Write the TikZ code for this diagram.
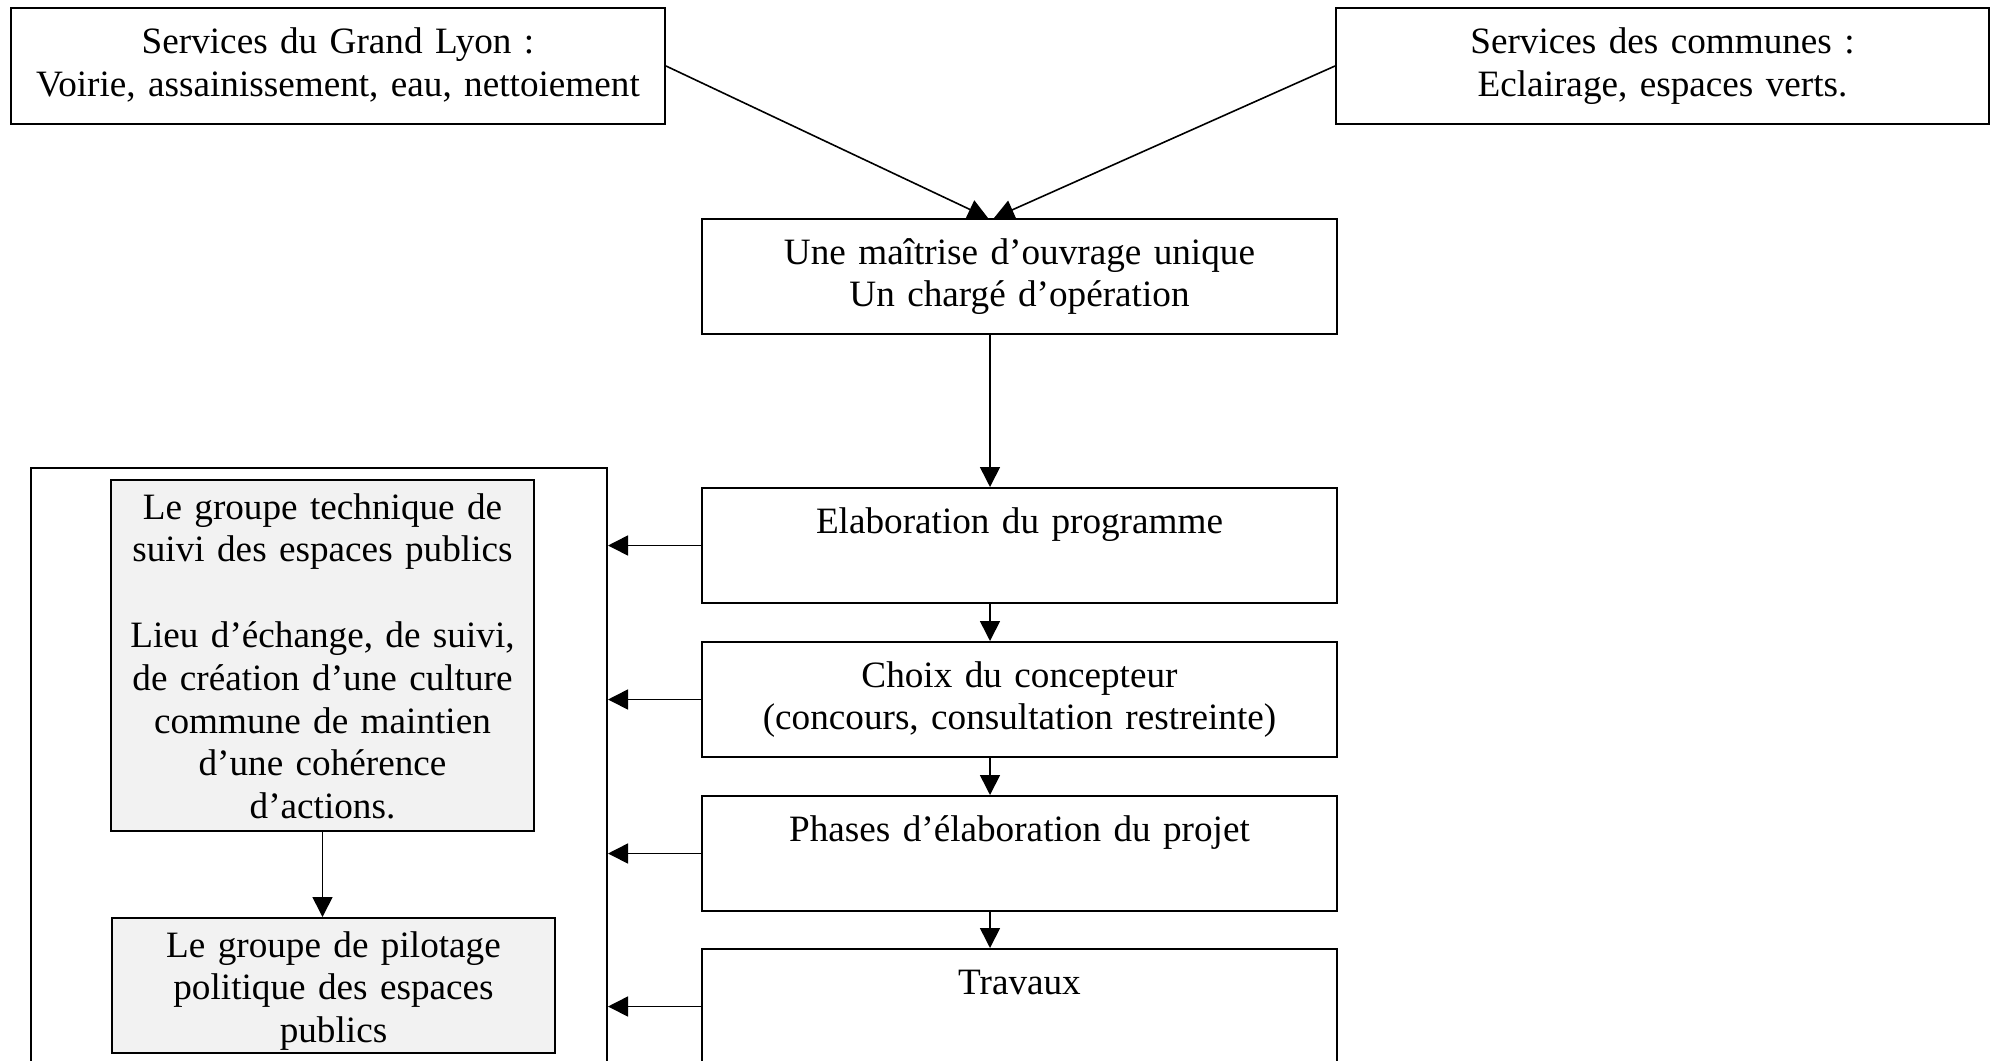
\documentclass[tikz,border=0pt]{standalone}
\usepackage{fontspec}
\setmainfont{Liberation Serif}
\usetikzlibrary{arrows.meta,calc}
\definecolor{panelgrey}{HTML}{F2F2F2}
\tikzset{
  box/.style={draw, line width=1pt, inner sep=0pt, anchor=north west,
    align=center, font=\fontsize{18.6}{21.4}\selectfont},
  head/.style={box, text height=23pt, text depth=35pt},
  flow/.style={box, text width=317.5pt, text height=22.5pt, text depth=35pt},
  panel/.style={box, fill=panelgrey, text height=19.5pt},
  link/.style={line width=0.8pt, -{Triangle[length=10pt,width=10pt]}}
}
\begin{document}
\begin{tikzpicture}[x=0.5pt, y=-0.5pt]
\useasboundingbox (0,0) rectangle (1995,1060);

% service boxes at the top
\node[head, text width=327pt] (gl) at (10,7)
  {Services du Grand Lyon :\\Voirie, assainissement, eau, nettoiement};
\node[head, text width=326.5pt] (cm) at (1335,7)
  {Services des communes :\\Eclairage, espaces verts.};

% main process column
\node[flow] (mo) at (701,218) {Une maîtrise d’ouvrage unique\\Un chargé d’opération};
\node[flow] (el) at (701,487) {Elaboration du programme};
\node[flow] (ch) at (701,641) {Choix du concepteur\\(concours, consultation restreinte)};
\node[flow] (ph) at (701,795) {Phases d’élaboration du projet};
\node[flow] (tr) at (701,948) {Travaux};

% frame holding the two working groups
\node[draw, line width=1pt, anchor=north west, inner sep=0pt,
  minimum width=288pt, minimum height=320pt] (grp) at (30,467) {};
\node[panel, text width=211.5pt, text depth=156pt] (g1) at (110,479)
  {Le groupe technique de\\suivi des espaces publics\\[21.4pt]Lieu d’échange, de suivi,\\de création d’une culture\\commune de maintien\\d’une cohérence\\d’actions.};
\node[panel, text width=221.5pt, text depth=48pt] (g2) at (111,917)
  {Le groupe de pilotage\\politique des espaces\\publics};

% connectors
\coordinate (axis) at (990,0);
\draw[link] (gl.east) -- ($(axis |- mo.north)+(-2,0)$);
\draw[link] (cm.west) -- ($(axis |- mo.north)+(4,0)$);
\draw[link] (axis |- mo.south) -- (axis |- el.north);
\draw[link] (axis |- el.south) -- (axis |- ch.north);
\draw[link] (axis |- ch.south) -- (axis |- ph.north);
\draw[link] (axis |- ph.south) -- (axis |- tr.north);
\foreach \n in {el,ch,ph,tr}
  \draw[link] (\n.west) -- (\n.west -| grp.east);
\draw[link] (g1.south) -- (g1.south |- g2.north);
\end{tikzpicture}
\end{document}
